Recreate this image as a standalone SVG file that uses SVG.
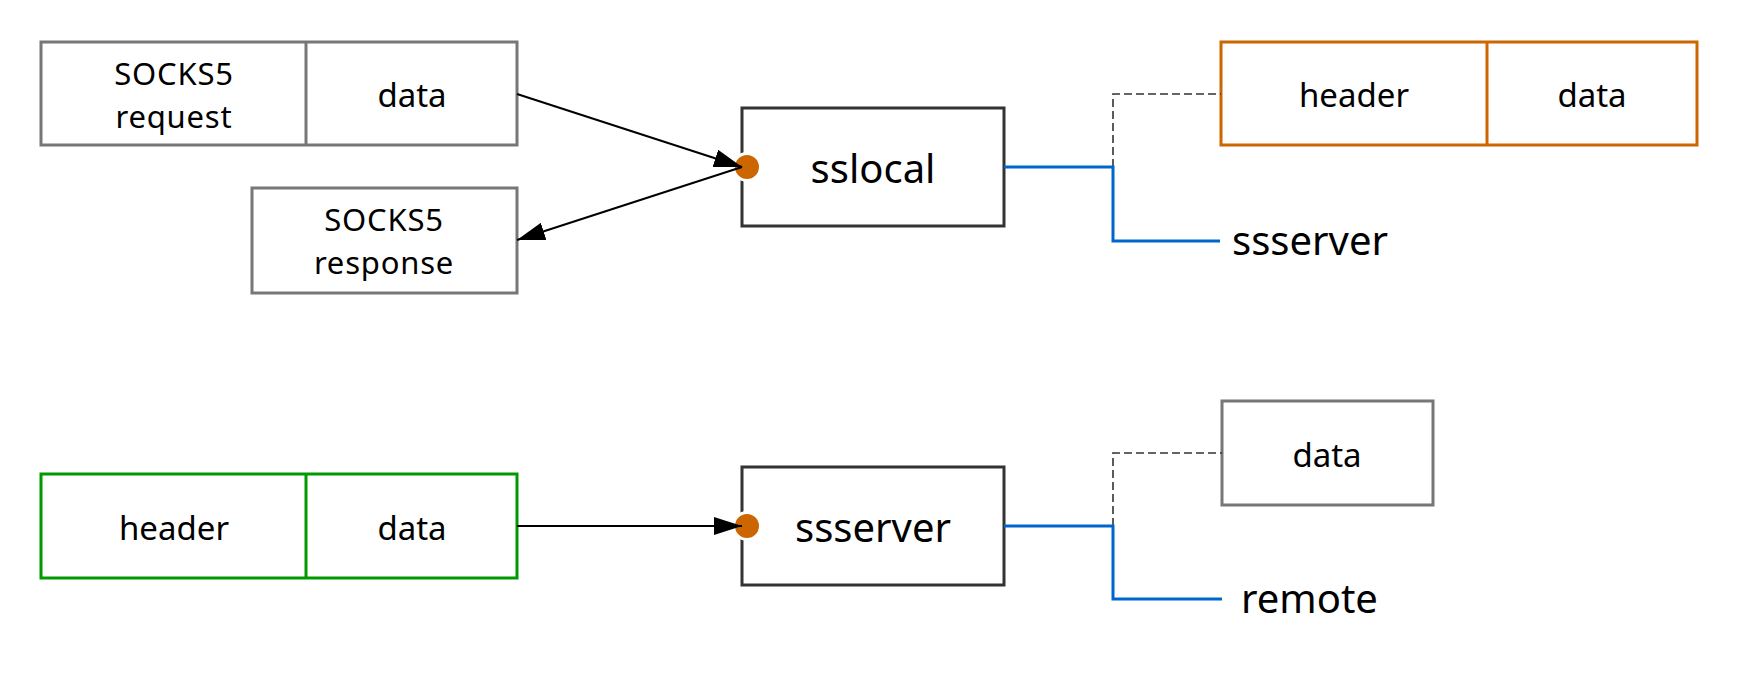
<svg xmlns="http://www.w3.org/2000/svg" width="1739" height="678" viewBox="0 0 1739 678">
  <style>
    .box { fill: #ffffff; stroke-width: 3; }
    .gray { stroke: #777777; }
    .dark { stroke: #333333; }
    .orange { stroke: #cc6600; }
    .green { stroke: #009900; }
    .lbl { font-family: "Noto Sans", "Open Sans", sans-serif; font-size: 33px; fill: #000000; text-anchor: middle; }
    .two { font-size: 31px; letter-spacing: 0.8px; }
    .big { font-family: "Noto Sans", "Open Sans", sans-serif; font-size: 40px; fill: #000000; }
    .arrow { fill: none; stroke: #000000; stroke-width: 2; marker-end: url(#ah); }
    .blue { fill: none; stroke: #0066cc; stroke-width: 3; }
    .dash { fill: none; stroke: #333333; stroke-width: 1.6; stroke-dasharray: 8 4; }
    .dot { fill: #cc6600; stroke: #ffffff; stroke-width: 3; }
  </style>
  <defs>
    <marker id="ah" markerUnits="userSpaceOnUse" markerWidth="28" markerHeight="18" refX="28" refY="9" orient="auto">
      <path d="M0,0 L28,9 L0,18 z" fill="#000000"/>
    </marker>
  </defs>

  <g id="socks5-request">
    <rect class="box gray" x="41" y="42" width="476" height="103"/>
    <line class="gray" stroke-width="3" x1="306" y1="42" x2="306" y2="145"/>
    <text class="lbl two" x="174" y="85">SOCKS5</text>
    <text class="lbl two" x="174" y="128">request</text>
    <text class="lbl" x="412" y="107">data</text>
  </g>

  <g id="socks5-response">
    <rect class="box gray" x="252" y="188" width="265" height="105"/>
    <text class="lbl two" x="384" y="231">SOCKS5</text>
    <text class="lbl two" x="384" y="274">response</text>
  </g>

  <g id="sslocal">
    <rect class="box dark" x="742" y="108" width="262" height="118"/>
    <text class="big" x="873" y="183" text-anchor="middle">sslocal</text>
    <circle class="dot" cx="747" cy="167" r="13.5"/>
  </g>

  <g id="packet-top">
    <rect class="box orange" x="1221" y="42" width="476" height="103"/>
    <line class="orange" stroke-width="3" x1="1487" y1="42" x2="1487" y2="145"/>
    <text class="lbl" x="1354" y="107">header</text>
    <text class="lbl" x="1592" y="107">data</text>
  </g>

  <g id="ssserver-label">
    <text class="big" x="1232" y="255">ssserver</text>
  </g>

  <g id="packet-bottom-left">
    <rect class="box green" x="41" y="474" width="476" height="104"/>
    <line class="green" stroke-width="3" x1="306" y1="474" x2="306" y2="578"/>
    <text class="lbl" x="174" y="540">header</text>
    <text class="lbl" x="412" y="540">data</text>
  </g>

  <g id="ssserver">
    <rect class="box dark" x="742" y="467" width="262" height="118"/>
    <text class="big" x="873" y="542" text-anchor="middle">ssserver</text>
    <circle class="dot" cx="747" cy="526" r="13.5"/>
  </g>

  <g id="data-bottom-right">
    <rect class="box gray" x="1222" y="401" width="211" height="104"/>
    <text class="lbl" x="1327" y="467">data</text>
  </g>

  <g id="remote-label">
    <text class="big" x="1241" y="613">remote</text>
  </g>

  <g id="connectors">
    <path class="arrow" d="M517,94 L742,167"/>
    <path class="arrow" d="M742,167 L517,240"/>
    <path class="arrow" d="M517,526 L742,526"/>
    <path class="dash" d="M1113,167 V94 H1221"/>
    <path class="blue" d="M1004,167 H1113 V241 H1220"/>
    <path class="dash" d="M1113,526 V453 H1222"/>
    <path class="blue" d="M1004,526 H1113 V599 H1222"/>
  </g>
</svg>
